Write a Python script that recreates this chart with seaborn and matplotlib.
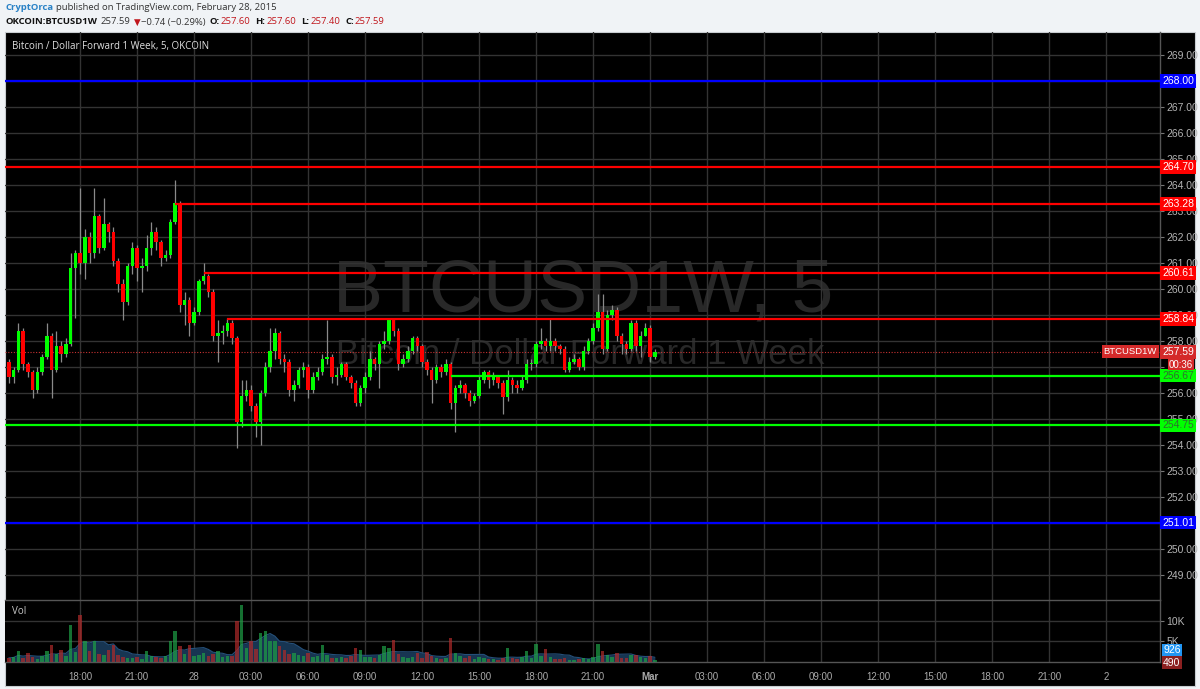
import numpy as np
import pandas as pd
import matplotlib
matplotlib.use("Agg")
import matplotlib.pyplot as plt
import matplotlib.dates as mdates
import matplotlib.transforms as mtransforms
from matplotlib.patches import Rectangle
import seaborn as sns

# ---- data: BTCUSD1W (OKCoin), 15 min candles ----
first_time = "2015-02-27 14:15"
first_open = 257.2
close = [256.6, 256.9, 258.4, 257.1, 256.8, 256.1, 256.8, 257.4, 258.2, 256.9,
         257.8, 257.5, 257.9, 260.8, 261.4, 261.0, 262.0, 261.4, 262.8, 261.6,
         262.5, 262.2, 261.1, 260.2, 259.5, 260.9, 261.6, 260.8, 260.9, 261.6,
         262.2, 261.8, 261.2, 261.3, 262.6, 263.3, 259.4, 259.6, 258.7, 259.1,
         260.3, 260.5, 259.9, 258.2, 258.3, 258.4, 258.7, 258.1, 254.9, 255.9,
         256.1, 255.5, 254.9, 256.0, 257.0, 257.6, 258.3, 257.3, 257.2, 256.1,
         256.3, 256.9, 257.0, 256.1, 256.6, 256.8, 257.3, 257.4, 256.6, 256.7,
         257.1, 256.6, 256.4, 255.6, 256.2, 256.6, 257.3, 257.1, 257.9, 258.0,
         258.8, 258.4, 257.1, 257.3, 257.6, 258.1, 257.8, 257.2, 256.9, 256.5,
         257.0, 256.8, 257.1, 255.6, 256.2, 256.3, 256.0, 255.7, 255.9, 256.5,
         256.8, 256.5, 256.6, 256.4, 255.85, 256.5, 256.3, 256.2, 256.5, 257.1,
         257.1, 257.9, 258.0, 257.8, 258.0, 257.8, 257.7, 256.9, 257.2, 257.3,
         257.0, 257.6, 258.0, 258.5, 259.1, 257.7, 259.0, 259.2, 258.2, 257.9,
         257.7, 258.7, 257.8, 258.2, 258.5, 257.4, 257.59]
high = [257.3, 257.0, 258.7, 258.5, 257.2, 256.9, 257.0, 257.5, 258.7, 258.3,
        258.4, 258.0, 258.1, 261.4, 261.5, 263.9, 262.3, 262.2, 263.9, 262.9,
        263.5, 262.6, 262.4, 261.2, 260.4, 261.0, 261.8, 261.7, 261.2, 262.1,
        262.6, 262.4, 261.9, 261.5, 262.7, 264.2, 263.4, 259.9, 259.7, 259.3,
        260.4, 261.0, 260.6, 260.0, 258.8, 258.6, 258.9, 258.8, 258.2, 256.5,
        256.5, 256.3, 255.6, 256.1, 257.2, 258.5, 258.5, 258.4, 257.5, 257.3,
        256.5, 257.0, 257.2, 257.1, 256.8, 257.0, 257.5, 258.8, 257.5, 257.0,
        257.2, 257.2, 256.7, 256.5, 256.3, 256.8, 257.6, 257.4, 258.0, 258.4,
        258.9, 258.9, 258.5, 257.5, 257.8, 258.2, 258.2, 257.9, 257.3, 257.0,
        257.1, 257.1, 257.3, 257.2, 256.3, 256.5, 256.4, 256.1, 256.0, 256.7,
        256.9, 256.9, 256.8, 256.7, 256.5, 256.9, 256.6, 256.5, 256.7, 257.3,
        257.3, 258.0, 258.5, 258.1, 258.9, 258.1, 257.9, 257.8, 257.4, 257.5,
        257.4, 257.8, 258.1, 258.7, 259.8, 259.8, 259.2, 259.4, 259.3, 258.3,
        258.0, 258.8, 258.8, 258.4, 258.7, 258.6, 257.7]
low = [256.4, 256.4, 256.8, 256.9, 256.6, 255.8, 256.0, 256.7, 257.3, 255.8,
       256.8, 257.2, 257.4, 257.8, 258.9, 260.6, 260.4, 261.0, 261.2, 261.4,
       261.5, 261.8, 260.9, 259.9, 258.8, 259.4, 260.6, 260.3, 259.9, 260.7,
       261.3, 261.5, 260.9, 261.1, 261.2, 262.5, 259.1, 258.6, 258.2, 258.6,
       259.0, 260.2, 259.7, 258.0, 257.2, 257.9, 258.2, 257.9, 253.9, 254.7,
       255.7, 255.3, 254.3, 254.0, 255.9, 256.8, 257.3, 257.1, 256.8, 255.9,
       255.7, 256.2, 256.6, 255.8, 256.0, 256.5, 256.7, 257.1, 256.4, 256.3,
       256.6, 256.5, 256.2, 255.5, 255.5, 256.0, 256.5, 256.9, 256.2, 257.7,
       257.9, 258.2, 256.9, 257.0, 257.2, 257.5, 257.6, 257.0, 256.7, 255.6,
       256.4, 256.6, 256.7, 255.4, 254.5, 256.0, 255.8, 255.5, 255.6, 255.8,
       256.4, 256.2, 256.3, 256.2, 255.2, 255.7, 256.0, 256.0, 256.1, 256.4,
       256.9, 257.0, 257.7, 257.6, 257.6, 257.6, 257.5, 256.8, 256.8, 257.1,
       256.9, 256.9, 257.5, 257.9, 258.4, 257.5, 257.6, 258.8, 258.0, 257.5,
       257.5, 257.6, 257.6, 257.4, 258.2, 257.2, 257.3]
volume = [1000, 1200, 2600, 900, 2200, 1100, 800, 1400, 2600, 4200,
          2000, 3000, 1500, 8900, 2400, 11400, 5000, 2600, 5200, 2000,
          1800, 2800, 4200, 1600, 1300, 1000, 900, 1200, 800, 2600,
          1400, 1100, 900, 1500, 5000, 7400, 3800, 2000, 4200, 1500,
          1800, 2200, 1400, 2000, 2600, 1200, 1500, 1400, 10000, 13800,
          3500, 5000, 3200, 7000, 7400, 5200, 5000, 3800, 2800, 2000,
          2200, 1600, 1400, 2200, 1200, 1500, 4200, 1600, 1000, 900,
          1200, 1000, 1400, 3400, 2800, 1100, 1300, 1000, 1600, 3800,
          3500, 5400, 2000, 1300, 1000, 1200, 2200, 1000, 2300, 1400,
          900, 800, 1000, 5800, 2200, 1400, 1000, 1500, 800, 1100,
          900, 700, 800, 600, 900, 3400, 1000, 700, 1200, 2600,
          900, 4400, 1500, 3100, 1200, 800, 700, 1000, 600, 500,
          700, 900, 800, 1300, 4400, 2600, 1600, 1200, 2200, 1000,
          900, 1600, 1600, 1100, 1000, 1400, 490]

# horizontal levels drawn by the author
level_prices = [268.00, 264.70, 263.28, 260.61, 258.84, 256.67, 254.75, 251.01]
level_colors = ["#0000ff", "#ff0000", "#ff0000", "#ff0000", "#ff0000",
                "#00ff00", "#00ff00", "#0000ff"]
level_starts = [None, None, "2015-02-27 23:00", "2015-02-28 00:30",
                "2015-02-28 01:45", "2015-02-28 13:30", None, None]
last_price = 257.59

price_ticks = list(range(249, 270))
hidden_ticks = [268, 257, 251]   # covered by the label boxes

# ---- style ----
sns.set_style("dark", {"axes.facecolor": "black"})
plt.rcParams["font.family"] = ["Liberation Sans", "DejaVu Sans"]

W, H = 1200, 689
def fy(y):
    return 1 - y / H

fig = plt.figure(figsize=(12, 6.89), dpi=100)
fig.patch.set_facecolor("#f0f3f6")
fig.add_artist(Rectangle((5 / W, fy(686)), 1190 / W, (686 - 32) / H,
                         transform=fig.transFigure, facecolor="black",
                         edgecolor="#c8ccd0", lw=0.8, zorder=0))

ax = fig.add_axes([5 / W, fy(600), 1155 / W, (600 - 32) / H])
axv = fig.add_axes([5 / W, fy(662), 1155 / W, (662 - 600) / H], sharex=ax)

df = pd.DataFrame({"close": close, "high": high, "low": low, "volume": volume})
df["time"] = pd.date_range(first_time, periods=len(df), freq="15min")
df["open"] = [first_open] + close[:-1]
df["up"] = df["close"] >= df["open"]
x = mdates.date2num(df["time"])
step = 15 / 1440

xmin = mdates.date2num(pd.Timestamp("2015-02-27 14:03"))
xmax = mdates.date2num(pd.Timestamp("2015-03-02 02:50"))

for a in (ax, axv):
    a.set_facecolor("black")
    a.grid(True, color="#333333", lw=1)
    for s in ("top", "left"):
        a.spines[s].set_visible(False)
    for s in ("right", "bottom"):
        a.spines[s].set_color("#555555")
        a.spines[s].set_linewidth(1)

# ---- candles ----
ax.vlines(x, df["low"], df["high"], color="#8a8a8a", lw=0.9, zorder=3)
body_lo = np.minimum(df["open"], df["close"])
body_h = np.maximum((df["close"] - df["open"]).abs(), 0.04)
ax.bar(x, body_h, bottom=body_lo, width=step * 0.75,
       color=np.where(df["up"], "#00ff00", "#ff0000"), lw=0, zorder=4)

# ---- levels ----
for p, c, s in zip(level_prices, level_colors, level_starts):
    x0 = xmin if s is None else mdates.date2num(pd.Timestamp(s))
    ax.hlines(p, x0, xmax, color=c, lw=1.6, zorder=5)
ax.axhline(last_price, color="#c83232", lw=0.8, ls=(0, (1, 1.5)), zorder=2)

ax.set_xlim(xmin, xmax)
ax.set_ylim(248.03, 269.9)
ax.yaxis.tick_right()
ax.set_yticks(price_ticks)
ax.set_yticklabels(["" if v in hidden_ticks else f"{v:.2f}" for v in price_ticks])
ax.tick_params(axis="y", colors="#777777", labelcolor="#b4b4b4", labelsize=7.5,
               length=3, width=0.8, pad=1.5, right=True)
ax.tick_params(axis="x", length=0, labelbottom=False, bottom=False)

# watermark
fig.text(583 / W, fy(292), "BTCUSD1W, 5", color="#282828", fontsize=54,
         ha="center", va="center", zorder=1)
fig.text(580 / W, fy(354), "Bitcoin / Dollar Forward 1 Week", color="#282828",
         fontsize=25, ha="center", va="center", zorder=1)
ax.set_zorder(2)
ax.patch.set_alpha(0)

hf = ["Open Sans", "DejaVu Sans"]
fig.text(12 / W, fy(46), "Bitcoin / Dollar Forward 1 Week, 5, OKCOIN",
         color="#e0e0e0", fontsize=7.0, family=hf, va="center", zorder=10)

# right-side price labels
trans = mtransforms.blended_transform_factory(fig.transFigure, ax.transData)
for p, c in zip(level_prices, level_colors):
    tc = "#2f6f2f" if c == "#00ff00" else "white"
    ax.text(1162 / W, p, f"{p:.2f}", transform=trans, color=tc, fontsize=7.5,
            va="center", ha="left", zorder=10, clip_on=False,
            bbox=dict(boxstyle="square,pad=0.18", fc=c, ec="none"))
ax.text(1162 / W, last_price, f"{last_price:.2f}", transform=trans, color="white",
        fontsize=7.5, va="center", ha="left", zorder=10, clip_on=False,
        bbox=dict(boxstyle="square,pad=0.18", fc="#d42a2a", ec="none"))
ax.text(1157 / W, last_price, "BTCUSD1W", transform=trans, color="white",
        fontsize=6.8, va="center", ha="right", zorder=10, clip_on=False,
        bbox=dict(boxstyle="square,pad=0.22", fc="#d42a2a", ec="none"))
fig.text(1169 / W, fy(364.5), "00:36", color="white", fontsize=7.0, va="center",
         ha="left", zorder=10,
         bbox=dict(boxstyle="square,pad=0.08", fc="#d42a2a", ec="none"))

# ---- volume ----
vol_ma = df["volume"].rolling(8, min_periods=1).mean()
axv.fill_between(x, 0, vol_ma, color="#173552", lw=0, zorder=1)
sns.lineplot(x=x, y=vol_ma, ax=axv, color="#25507a", lw=0.8, zorder=2)
axv.bar(x, df["volume"], width=step * 0.75,
        color=np.where(df["up"], "#1fa046", "#b02a2a"), alpha=0.7, lw=0, zorder=3)
axv.set_ylim(0, 15000)
axv.set_yticks([5000, 10000])
axv.yaxis.tick_right()
axv.set_yticklabels(["5K", "10K"])
axv.tick_params(axis="y", colors="#777777", labelcolor="#b4b4b4", labelsize=7.5,
                length=3, width=0.8, pad=1.5, right=True)
axv.set_ylabel("")
fig.text(12 / W, fy(612), "Vol", color="#c8c8c8", fontsize=7.0, family=hf,
         va="center", zorder=10)
fig.text(1163 / W, fy(650), "926", color="white", fontsize=7.5, va="center",
         ha="left", zorder=10,
         bbox=dict(boxstyle="square,pad=0.12", fc="#2196f3", ec="none"))
fig.text(1163 / W, fy(662.5), "490", color="white", fontsize=7.5, va="center",
         ha="left", zorder=10,
         bbox=dict(boxstyle="square,pad=0.12", fc="#8b2020", ec="none"))

# time axis
tick_times = pd.date_range("2015-02-27 18:00", "2015-03-02 00:00", freq="3h")
tick_labels = []
for t in tick_times:
    if t.hour == 0:
        tick_labels.append("Mar" if (t.month == 3 and t.day == 1) else str(t.day))
    else:
        tick_labels.append(t.strftime("%H:%M"))
axv.set_xticks(mdates.date2num(tick_times))
axv.set_xticklabels(tick_labels)
axv.tick_params(axis="x", colors="#aaaaaa", labelsize=7, length=0, pad=7)
for lab in axv.get_xticklabels():
    if lab.get_text() == "Mar":
        lab.set_fontweight("bold")
axv.set_xlim(xmin, xmax)

# ---- header: text pieces placed one after another ----
renderer = fig.canvas.get_renderer()
def chain(ypix, pieces):
    xpix = 5
    for s, color, weight, size, gap in pieces:
        t = fig.text(xpix / W, fy(ypix), s, color=color, fontsize=size,
                     family=hf, weight=weight, va="center")
        bb = t.get_window_extent(renderer)
        xpix = bb.x1 + gap

chain(8, [("CryptOrca", "#2a82c6", "bold", 6.8, 2.5),
          ("published on TradingView.com, February 28, 2015", "#333333",
           "normal", 6.8, 0)])
chain(22, [("OKCOIN:BTCUSD1W", "#111111", "bold", 6.8, 4),
           ("257.59", "#333333", "normal", 6.8, 3),
           ("\u25bc", "#c0161c", "normal", 6.2, 1),
           ("\u22120.74 (\u22120.29%)", "#333333", "normal", 6.8, 4),
           ("O:", "#111111", "bold", 6.8, 1),
           ("257.60", "#c0161c", "normal", 6.8, 5),
           ("H:", "#111111", "bold", 6.8, 1),
           ("257.60", "#c0161c", "normal", 6.8, 5),
           ("L:", "#111111", "bold", 6.8, 1),
           ("257.40", "#c0161c", "normal", 6.8, 5),
           ("C:", "#111111", "bold", 6.8, 1),
           ("257.59", "#c0161c", "normal", 6.8, 0)])

fig.savefig("out.png", dpi=100, facecolor=fig.get_facecolor())
